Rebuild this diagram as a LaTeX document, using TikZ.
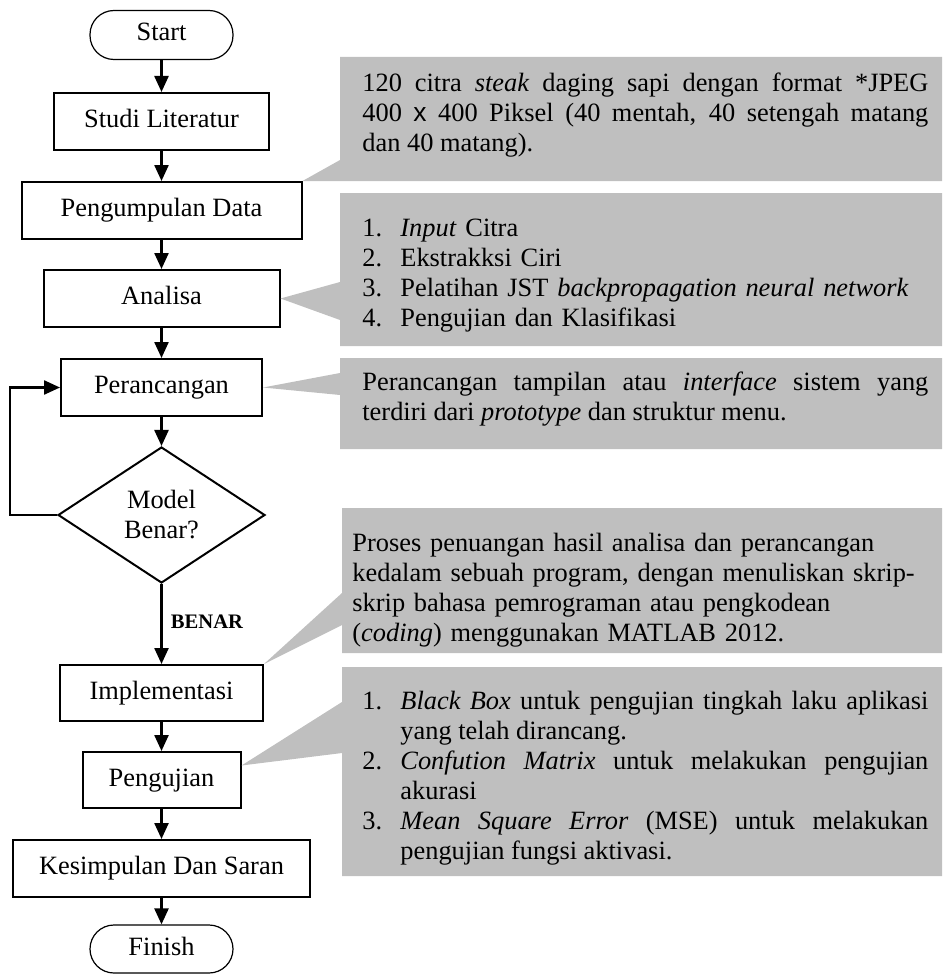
\documentclass[tikz,border=0pt]{standalone}
\usepackage{fontspec}
\setmainfont{Liberation Serif}
\setsansfont{Liberation Sans}
\usetikzlibrary{arrows.meta,shapes.geometric,calc}
\definecolor{callgray}{RGB}{191,191,191}
\newcommand{\mainfs}{\fontsize{13.2pt}{15pt}\selectfont}
\newcommand{\callfs}{\fontsize{13.2pt}{15pt}\selectfont\tolerance=10000\hyphenpenalty=10000\parskip=0pt\parindent=0pt}
\newcommand{\itm}[1]{\par\noindent\hangindent=19pt\hangafter=1\makebox[19pt][l]{#1}\strut}
\begin{document}
\begin{tikzpicture}[x=0.5pt,y=-0.5pt,
  box/.style={draw,line width=1pt,fill=white,inner sep=0pt,font=\mainfs,minimum height=28.5pt,text height=9pt,text depth=3pt},
  term/.style={draw,line width=0.6pt,fill=white,rounded corners=12pt,inner sep=0pt,font=\mainfs,minimum width=71.5pt,minimum height=24.5pt,text height=9pt,text depth=3pt},
  dec/.style={draw,line width=1pt,fill=white,diamond,aspect=1.5,inner sep=0pt,font=\mainfs,align=center,minimum width=103.5pt,minimum height=68pt},
  arr/.style={line width=1.2pt,-{Triangle[width=7pt,length=8pt]}},
  callout/.style={fill=callgray},
  calltext/.style={anchor=north west,inner sep=0pt,font=\callfs,align=justify,text width=283pt}
]
\useasboundingbox (0,0) rectangle (942,974);

% flowchart nodes
\node[term] (start) at (161.5,35) {Start};
\node[box,minimum width=107.5pt] (studi) at (161.5,121.5) {Studi Literatur};
\node[box,minimum width=140pt] (kumpul) at (161.5,210.5) {Pengumpulan Data};
\node[box,minimum width=118pt] (analisa) at (161.5,298.5) {Analisa};
\node[box,minimum width=100.5pt] (rancang) at (161.5,387.5) {Perancangan};
\node[dec] (dia) at (161.5,515) {Model\\Benar?};
\node[box,minimum width=101.5pt,minimum height=28pt] (impl) at (161.5,693) {Implementasi};
\node[box,minimum width=79pt,minimum height=28pt] (uji) at (161.5,780) {Pengujian};
\node[box,minimum width=148.5pt] (simpul) at (161.5,868.5) {Kesimpulan Dan Saran};
\node[term,minimum height=24pt] (finish) at (161.5,949) {Finish};
\node[font=\fontsize{10.3pt}{12pt}\selectfont\bfseries,inner sep=0pt] (benar) at (207,622) {BENAR};

% connectors
\draw[arr] (start) -- (studi);
\draw[arr] (studi) -- (kumpul);
\draw[arr] (kumpul) -- (analisa);
\draw[arr] (analisa) -- (rancang);
\draw[arr] (rancang) -- (dia);
\draw[arr] (dia) -- (impl);
\draw[arr] (impl) -- (uji);
\draw[arr] (uji) -- (simpul);
\draw[arr] (simpul) -- (finish);
\coordinate (loopc) at (10,515);
\draw[arr] (dia.west) -- (loopc) |- (rancang.west);

% callouts
\fill[callout] (340,57) -- (942,57) -- (942,181) -- (340,181) -- (kumpul.north east) -- (340,160) -- cycle;
\fill[callout] (340,193) -- (942,193) -- (942,346) -- (340,346) -- (340,320) -- (analisa.east) -- (340,282) -- cycle;
\fill[callout] (340,358) -- (942,358) -- (942,449) -- (340,449) -- (340,395) -- (rancang.east) -- (340,373) -- cycle;
\fill[callout] (342,508) -- (942,508) -- (942,653) -- (342,653) -- (342,625) -- (impl.north east) -- (342,593) -- cycle;
\coordinate (ujitip) at ($(uji.north east)!0.25!(uji.south east)$);
\fill[callout] (342,667) -- (942,667) -- (942,876) -- (342,876) -- (342,753) -- (ujitip) -- (342,702) -- cycle;

% callout texts
\node[calltext] (t1) at (362,70.5) {\strut 120 citra \emph{steak} daging sapi dengan format *JPEG\linebreak 400 {\sffamily x} 400 Piksel (40 mentah, 40 setengah matang\linebreak dan 40 matang).\par};
\node[calltext,align=left] (t2) at (362,206) {\itm{1.}\emph{Input} Citra\itm{2.}Ekstrakksi Ciri\itm{3.}Pelatihan JST \emph{backpropagation neural network}\itm{4.}Pengujian dan Klasifikasi\par};
\node[calltext] (t3) at (362,369) {\strut Perancangan tampilan atau \emph{interface} sistem yang\linebreak terdiri dari \emph{prototype} dan struktur menu.\par};
\node[calltext,align=left,text width=300pt] (t4) at (352,530.5) {\strut Proses penuangan hasil analisa dan perancangan\\kedalam sebuah program, dengan menuliskan skrip-\\skrip bahasa pemrograman atau pengkodean\\(\emph{coding}) menggunakan MATLAB 2012.};
\node[calltext,text width=283pt] (t5) at (362,679) {\itm{1.}\emph{Black Box} untuk pengujian tingkah laku aplikasi\linebreak yang telah dirancang.\itm{2.}\emph{Confution Matrix} untuk melakukan pengujian\linebreak akurasi\itm{3.}\emph{Mean Square Error} (MSE) untuk melakukan\linebreak pengujian fungsi aktivasi.\par};
\end{tikzpicture}
\end{document}
